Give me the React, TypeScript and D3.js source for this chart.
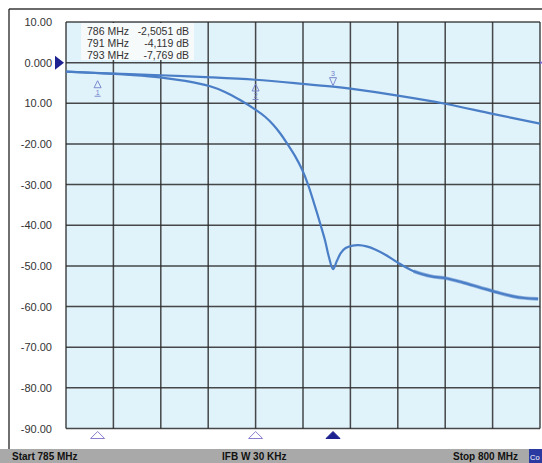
import React from "react";
import * as d3 from "d3";

const W = 542;
const H = 463;

const yTickValues = [10, 0, -10, -20, -30, -40, -50, -60, -70, -80, -90];
const yTickLabels = ["10.00", "0.000", "10.00", "-20.00", "-30.00", "-40.00", "-50.00", "-60.00", "-70.00", "-80.00", "-90.00"];
const xGridValues = [785, 786.5, 788, 789.5, 791, 792.5, 794, 795.5, 797, 798.5, 800];

const traceAFreq = [785.0, 786.5, 788.0, 789.6, 791.0, 792.5, 793.45, 794.0, 795.5, 797.0, 798.5, 800.0];
const traceADb = [-2.2, -2.7, -3.1, -3.6, -4.2, -5.2, -5.9, -6.4, -8.1, -10.1, -12.6, -15.0];

const traceBFreq = [785.0, 786.49, 787.03, 787.97, 788.77, 789.56, 790.03, 790.51, 791.04, 791.3, 791.55, 791.77, 791.99, 792.25, 792.47, 792.66, 792.85, 793.06, 793.2, 793.32, 793.45, 793.57, 793.7, 793.85, 794.07, 794.26, 794.51, 794.8, 795.12, 795.5, 796.0, 796.52, 797.06, 797.56, 798.1, 798.64, 799.15, 799.5, 799.94];
const traceBDb = [-2.2, -2.75, -3.0, -3.6, -4.5, -5.8, -7.2, -9.2, -11.8, -13.3, -15.2, -17.3, -19.8, -23.0, -26.3, -30.0, -34.6, -40.0, -43.8, -47.8, -50.8, -48.8, -46.8, -45.6, -45.0, -44.9, -45.2, -46.0, -47.3, -49.2, -51.3, -52.5, -53.1, -54.1, -55.3, -56.5, -57.5, -57.9, -58.1];

const markerIds = ["1", "2", "3"];
const markerFreq = [786, 791, 793.45];
const markerDb = [-4.2, -5.0, -5.9];
const markerText = [
  ["786 MHz", "-2,5051 dB"],
  ["791 MHz", "-4,119 dB"],
  ["793 MHz", "-7,769 dB"],
];

const plot = { left: 66, right: 540, top: 22, bottom: 428.5 };

export default function App() {
  const x = d3.scaleLinear().domain([785, 800]).range([plot.left, plot.right]);
  const y = d3.scaleLinear().domain([10, -90]).range([plot.top, plot.bottom]);

  const line = d3
    .line<[number, number]>()
    .x((d) => x(d[0]))
    .y((d) => y(d[1]))
    .curve(d3.curveCatmullRom.alpha(0.5));

  const dataA: [number, number][] = traceAFreq.map((f, i) => [f, traceADb[i]]);
  const dataB: [number, number][] = traceBFreq.map((f, i) => [f, traceBDb[i]]);
  const dataBNoisy = dataB.filter((d) => d[0] >= 796.0);

  const font = "'Liberation Sans', Arial, Helvetica, sans-serif";
  const gridColor = "#2a2a2a";
  const traceColor = "#4a7ec6";
  const markerColor = "#6f7fcc";

  return (
    <svg
      width={W}
      height={H}
      style={{ position: "absolute", left: 0, top: 0, display: "block", background: "#ffffff" }}
      fontFamily={font}
    >
      {/* outer frame */}
      <line x1={9} x2={W} y1={9} y2={9} stroke="#6a6a6a" strokeWidth={2} />
      <line x1={9} x2={9} y1={9} y2={449} stroke="#222" strokeWidth={1.3} />

      {/* plot background */}
      <rect x={plot.left} y={plot.top} width={plot.right - plot.left} height={plot.bottom - plot.top} fill="#e0f2fa" />

      {/* grid */}
      {xGridValues.map((v, i) => (
        <line key={"gx" + i} x1={x(v)} x2={x(v)} y1={plot.top} y2={plot.bottom} stroke={gridColor} strokeWidth={1.5} opacity={0.85} />
      ))}
      {yTickValues.map((v, i) => (
        <line key={"gy" + i} x1={plot.left} x2={plot.right} y1={y(v)} y2={y(v)} stroke={gridColor} strokeWidth={1.5} opacity={0.85} />
      ))}

      {/* annotation box */}
      <rect x={81} y={plot.top + 1} width={113} height={37} fill="#f7fafb" />
      {markerText.map((t, i) => (
        <g key={"mt" + i} fontSize={10.5} fill="#333">
          <text x={87} y={35 + i * 12}>{t[0]}</text>
          <text x={189} y={35 + i * 12} textAnchor="end">{t[1]}</text>
        </g>
      ))}

      {/* traces */}
      <path d={line(dataA) || ""} fill="none" stroke={traceColor} strokeWidth={2.2} strokeLinejoin="round" />
      <path d={line(dataB) || ""} fill="none" stroke={traceColor} strokeWidth={2.2} strokeLinejoin="round" />
      <path d={line(dataBNoisy) || ""} fill="none" stroke={traceColor} strokeWidth={3.6} strokeOpacity={0.55} strokeLinejoin="round" />

      {/* on-trace markers */}
      {markerIds.map((id, i) => {
        const mx = x(markerFreq[i]);
        const my = y(markerDb[i]);
        if (id === "3") {
          return (
            <g key={"mk" + i} stroke={markerColor} fill="none" strokeWidth={0.9}>
              <path d={`M${mx - 3.5},${my - 9} L${mx + 3.5},${my - 9} L${mx},${my - 1} Z`} />
              <text x={mx} y={my - 10.5} fontSize={7} fill={markerColor} stroke="none" textAnchor="middle">{id}</text>
            </g>
          );
        }
        const ty = my + 1;
        return (
          <g key={"mk" + i} stroke={markerColor} fill="none" strokeWidth={0.9}>
            <path d={`M${mx},${ty} L${mx + 3.5},${ty + 7} L${mx - 3.5},${ty + 7} Z`} />
            <text x={mx} y={ty + 14} fontSize={7} fill={markerColor} stroke="none" textAnchor="middle">{id}</text>
            <line x1={mx - 3} x2={mx + 3} y1={ty + 15.5} y2={ty + 15.5} />
          </g>
        );
      })}

      {/* bottom markers */}
      {markerIds.map((id, i) => {
        const mx = x(markerFreq[i]);
        const filled = id === "3";
        return (
          <path
            key={"bm" + i}
            d={`M${mx},${plot.bottom + 3} L${mx + 7},${plot.bottom + 10} L${mx - 7},${plot.bottom + 10} Z`}
            fill={filled ? "#1e2290" : "none"}
            stroke={filled ? "#1e2290" : "#8a80d2"}
            strokeWidth={1}
          />
        );
      })}

      {/* reference marker on y axis */}
      <path d={`M55,${y(0) - 7} L64,${y(0)} L55,${y(0) + 7} Z`} fill="#1e2290" />
      <path d={`M540,${y(0) - 2} L543,${y(0)} L540,${y(0) + 2} Z`} fill="#7a70c8" />

      {/* y tick labels */}
      {yTickValues.map((v, i) => (
        <text key={"yl" + i} x={52} y={y(v) + 4} fontSize={11} fill="#333" textAnchor="end">
          {yTickLabels[i]}
        </text>
      ))}

      {/* bottom status bar */}
      <rect x={0} y={449} width={W} height={14} fill="#a9a9a9" />
      <text x={12} y={460} fontSize={10} fontWeight="bold" fill="#111">Start 785 MHz</text>
      <text x={222} y={460} fontSize={10} fontWeight="bold" fill="#111">IFB W 30 KHz</text>
      <text x={453} y={460} fontSize={10} fontWeight="bold" fill="#111">Stop 800 MHz</text>
      <rect x={529} y={449} width={13} height={14} fill="#2b3aa0" />
      <text x={530} y={459.5} fontSize={7.5} fill="#ffffff">Co</text>
    </svg>
  );
}
